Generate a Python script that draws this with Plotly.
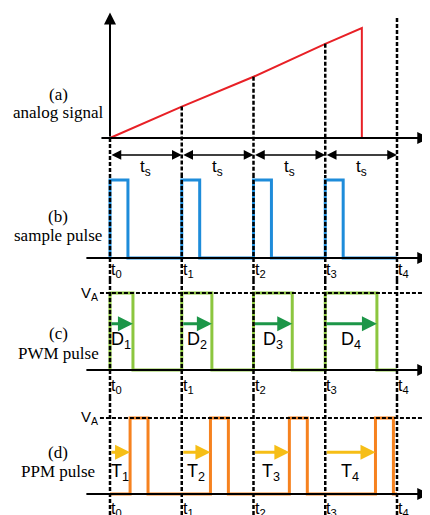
import plotly.graph_objects as go

# ---------------- data (time in units of the sampling period ts) ----------------
sample_times = [0, 1, 2, 3, 4]
time_labels = ["t<sub>0</sub>", "t<sub>1</sub>", "t<sub>2</sub>", "t<sub>3</sub>", "t<sub>4</sub>"]
analog_t = [0, 1, 2, 3, 3.51, 3.51]
analog_v = [0, 1.0, 1.95, 3.0, 3.5, 0]
sample_values = [0, 1.0, 1.95, 3.0, 3.82]
sample_width = 0.25
pwm_widths = [0.32, 0.42, 0.54, 0.72]
pwm_labels = ["D<sub>1</sub>", "D<sub>2</sub>", "D<sub>3</sub>", "D<sub>4</sub>"]
ppm_delays = [0.28, 0.40, 0.50, 0.70]
ppm_width = 0.25
ppm_labels = ["T<sub>1</sub>", "T<sub>2</sub>", "T<sub>3</sub>", "T<sub>4</sub>"]
ts_label = "t<sub>s</sub>"
va_label = "V<sub>A</sub>"
panel_titles = [("(a)", "analog signal"), ("(b)", "sample pulse"),
                ("(c)", "PWM pulse"), ("(d)", "PPM pulse")]

RED = "rgb(232,32,38)"
BLUE = "rgb(30,140,218)"
GREEN = "rgb(140,198,63)"
DKGREEN = "rgb(28,150,72)"
ORANGE = "rgb(246,130,31)"
YELLOW = "rgb(246,190,22)"
SANS = "Liberation Sans"
SERIF = "Liberation Serif"


def pulse_train(starts, widths, end):
    xs, ys = [sample_times[0]], [0]
    for s, w in zip(starts, widths):
        xs += [s, s, s + w, s + w]
        ys += [0, 1, 1, 0]
    xs.append(end)
    ys.append(0)
    return xs, ys


fig = go.Figure()

# (a) analog signal
fig.add_trace(go.Scatter(x=analog_t, y=analog_v, mode="lines",
                         line=dict(color=RED, width=2), xaxis="x", yaxis="y"))
# (b) sample pulses
bx, by = pulse_train(sample_times[:4], [sample_width] * 4, sample_times[4])
fig.add_trace(go.Scatter(x=bx, y=by, mode="lines",
                         line=dict(color=BLUE, width=3), xaxis="x", yaxis="y2"))
# (c) PWM
cx, cy = pulse_train(sample_times[:4], pwm_widths, sample_times[4])
fig.add_trace(go.Scatter(x=cx, y=cy, mode="lines",
                         line=dict(color=GREEN, width=3), xaxis="x", yaxis="y3"))
# (d) PPM
ppm_starts = [t + d for t, d in zip(sample_times[:4], ppm_delays)]
dx, dy = pulse_train(ppm_starts, [ppm_width] * 4, sample_times[4])
fig.add_trace(go.Scatter(x=dx, y=dy, mode="lines",
                         line=dict(color=ORANGE, width=3), xaxis="x", yaxis="y4"))

shapes = []
annotations = []
DASH = "4px,2px"

# panel (a) axes
annotations.append(dict(x=0, y=4.0, ax=0, ay=0, xref="x", yref="y", axref="x", ayref="y",
                        text="", showarrow=True, arrowhead=2, arrowsize=1.2, arrowwidth=2,
                        arrowcolor="black", standoff=0))
annotations.append(dict(x=4.45, y=0, ax=-0.14, ay=0, xref="x", yref="y", axref="x", ayref="y",
                        text="", showarrow=True, arrowhead=2, arrowsize=1.2, arrowwidth=2,
                        arrowcolor="black", standoff=0))
# baselines of (b)-(d)
for ya in ["y2", "y3", "y4"]:
    annotations.append(dict(x=4.45, y=0, ax=-0.35, ay=0, xref="x", yref=ya, axref="x", ayref=ya,
                            text="", showarrow=True, arrowhead=2, arrowsize=1.2, arrowwidth=2,
                            arrowcolor="black", standoff=0))

# vertical dashed sample lines
for t, v in zip(sample_times, sample_values):
    shapes.append(dict(type="line", xref="x", yref="y", x0=t, x1=t, y0=v, y1=-1.178,
                       line=dict(color="black", width=2.5, dash=DASH)))
    for ya in ["y2", "y3", "y4"]:
        shapes.append(dict(type="line", xref="x", yref=ya + " domain", x0=t, x1=t, y0=0, y1=1,
                           line=dict(color="black", width=2.5, dash=DASH)))

# ts double arrows
for i in range(4):
    annotations.append(dict(x=sample_times[i + 1], y=-0.54, ax=sample_times[i], ay=-0.54,
                            xref="x", yref="y", axref="x", ayref="y", text="", showarrow=True,
                            arrowhead=2, startarrowhead=2, arrowside="end+start",
                            arrowsize=1.3, startarrowsize=1.3, arrowwidth=1.5,
                            arrowcolor="black", standoff=0, startstandoff=0))
    annotations.append(dict(x=(sample_times[i] + sample_times[i + 1]) / 2, y=-0.95,
                            xref="x", yref="y", text=ts_label, showarrow=False,
                            font=dict(family=SANS, size=17, color="black")))

# time labels under panels (b)-(d)
for ya, yl in [("y2", -0.16), ("y3", -0.22), ("y4", -0.21)]:
    for t, lab in zip(sample_times, time_labels):
        annotations.append(dict(x=t, y=yl, xref="x", yref=ya, text=lab, showarrow=False,
                                xanchor="left", xshift=-1,
                                font=dict(family=SANS, size=16, color="black")))

# V_A reference lines
for ya in ["y3", "y4"]:
    shapes.append(dict(type="line", xref="x", yref=ya, x0=-0.14, x1=4.46, y0=1, y1=1,
                       line=dict(color="black", width=2, dash=DASH)))
    annotations.append(dict(x=-0.14, y=1, xref="x", yref=ya, text=va_label, showarrow=False,
                            xanchor="right", font=dict(family=SANS, size=15, color="black")))

# PWM arrows and labels
for t, w, lab in zip(sample_times, pwm_widths, pwm_labels):
    annotations.append(dict(x=t + w, y=0.6, ax=t, ay=0.6, xref="x", yref="y3", axref="x",
                            ayref="y3", text="", showarrow=True, arrowhead=2, arrowsize=1,
                            arrowwidth=3, arrowcolor=DKGREEN, standoff=0))
    annotations.append(dict(x=t + w / 2, y=0.38, xref="x", yref="y3", text=lab,
                            showarrow=False, font=dict(family=SANS, size=18, color="black")))

# PPM arrows and labels
for t, d, lab in zip(sample_times, ppm_delays, ppm_labels):
    annotations.append(dict(x=t + d, y=0.55, ax=t, ay=0.55, xref="x", yref="y4", axref="x",
                            ayref="y4", text="", showarrow=True, arrowhead=2, arrowsize=1,
                            arrowwidth=3, arrowcolor=YELLOW, standoff=0))
    annotations.append(dict(x=t + d / 2, y=0.28, xref="x", yref="y4", text=lab,
                            showarrow=False, font=dict(family=SANS, size=18, color="black")))

# panel titles
title_pos = [("y", 1.37, 0.80), ("y2", 0.53, 0.29), ("y3", 0.48, 0.22), ("y4", 0.54, 0.29)]
for (ya, y1, y2), (a, b) in zip(title_pos, panel_titles):
    annotations.append(dict(x=-0.72, y=y1, xref="x", yref=ya, text=a, showarrow=False,
                            font=dict(family=SERIF, size=17, color="black")))
    annotations.append(dict(x=-0.72, y=y2, xref="x", yref=ya, text=b, showarrow=False,
                            font=dict(family=SERIF, size=17, color="black")))

hidden = dict(showgrid=False, zeroline=False, showticklabels=False, showline=False,
              ticks="", fixedrange=True)
# the page body has an 8px margin, so the figure is 8px smaller than the window
fig.update_layout(
    width=422, height=507,
    margin=dict(l=0, r=0, t=0, b=0),
    paper_bgcolor="white", plot_bgcolor="white",
    showlegend=False,
    xaxis=dict(range=[-1.4216, 4.460], domain=[0, 1], anchor="y", **hidden),
    yaxis=dict(range=[-1.178, 4.140], domain=[0.6706, 1.0], anchor="x", **hidden),
    yaxis2=dict(range=[-0.282, 1.064], domain=[0.4635, 0.6706], anchor="x", **hidden),
    yaxis3=dict(range=[-0.364, 1.169], domain=[0.2308, 0.4635], anchor="x", **hidden),
    yaxis4=dict(range=[-0.276, 1.263], domain=[0.0, 0.2308], anchor="x", **hidden),
    shapes=shapes,
    annotations=annotations,
)

fig.write_html("out.html")
